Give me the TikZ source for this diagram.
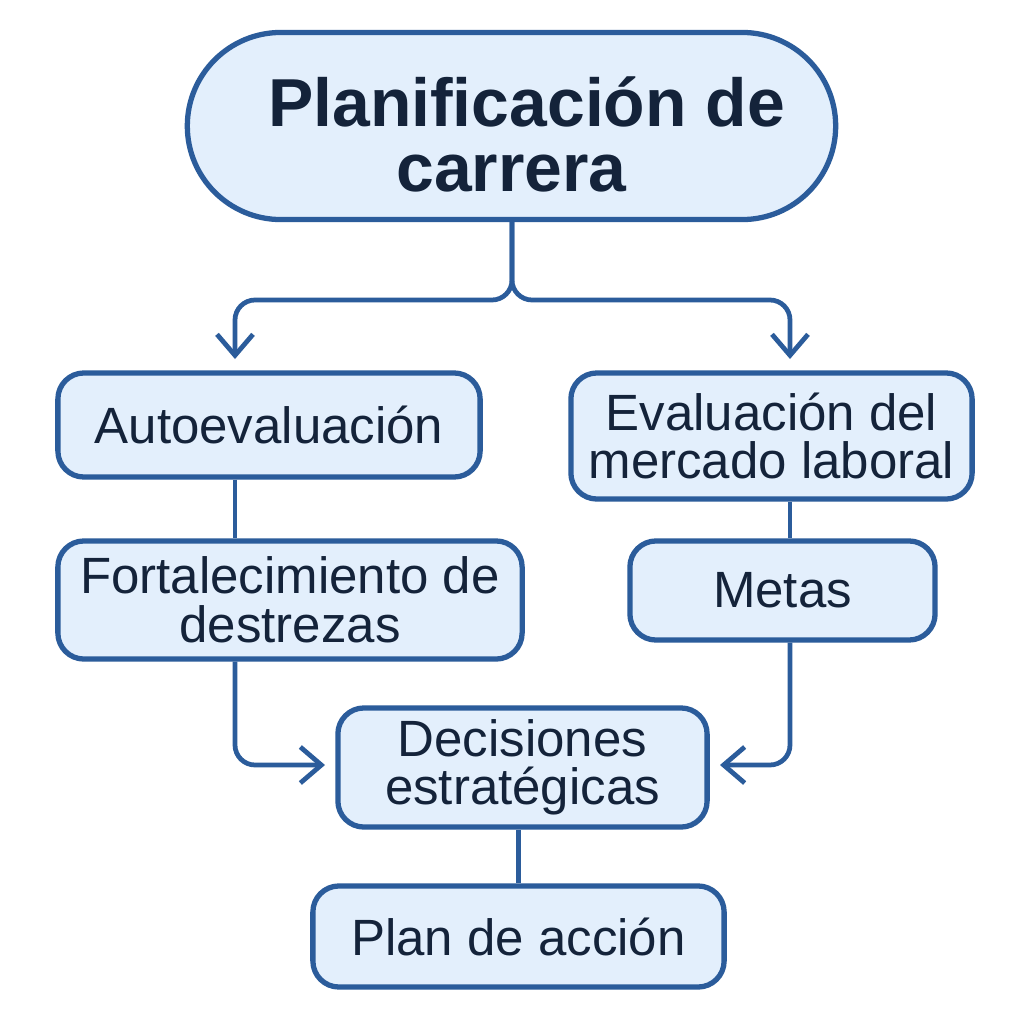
\documentclass[tikz,border=0pt]{standalone}
\usepackage{fontspec}
\setmainfont{Liberation Sans}
\usetikzlibrary{arrows.meta,shapes.misc}

\definecolor{Border}{HTML}{2B5C9B}
\definecolor{BoxFill}{HTML}{E3EFFC}
\definecolor{Ink}{HTML}{14233A}

\begin{document}
\begin{tikzpicture}[x=0.01cm, y=-0.01cm,
  stepbox/.style={draw=Border, fill=BoxFill, line width=1.5pt, rounded corners=0.26cm,
    inner sep=0pt, align=center, text=Ink,
    font=\fontsize{14.5}{13.8}\selectfont},
  link/.style={draw=Border, line width=1.35pt, rounded corners=0.2cm},
  tip/.style={-{Straight Barb[length=0.21cm, width=0.36cm, line width=1.35pt]}}]

  \useasboundingbox[fill=white] (0,0) rectangle (1024,1024);

  %%%%%%%%%%%%%%%% NODES %%%%%%%%%%%%%%%%%%%%%%
  \node (plan) [draw=Border, fill=BoxFill, line width=1.5pt, rounded rectangle,
    minimum width=6.48cm, minimum height=1.87cm, inner sep=0pt, align=center, text=Ink,
    font=\fontsize{19.3}{18.5}\selectfont\bfseries] at (511.5,126)
    {\hspace*{0.3cm}\rule{0pt}{0.66cm}Planificación de\\carrera};

  \node (auto) [stepbox, minimum width=4.22cm, minimum height=1.04cm] at (269,425) {Autoevaluación};
  \node (merc) [stepbox, minimum width=4.01cm, minimum height=1.26cm] at (771.5,436) {Evaluación del\\mercado laboral};
  \node (fort) [stepbox, minimum width=4.64cm, minimum height=1.18cm] at (290,600) {Fortalecimiento de\\destrezas};
  \node (metas) [stepbox, minimum width=3.05cm, minimum height=0.99cm] at (782.5,590.5) {Metas};
  \node (dec) [stepbox, minimum width=3.69cm, minimum height=1.19cm] at (522.5,767.5) {Decisiones\\estratégicas};
  \node (accion) [stepbox, minimum width=4.11cm, minimum height=1.01cm] at (518.5,936.5) {Plan de acción};

  %%%%%%%%%% Points pour les liens %%%%%%%%%%
  \coordinate (split) at (512,300);
  \coordinate (leftcol) at (235,300);
  \coordinate (rightcol) at (790,300);
  \coordinate (leftend) at (235,359);
  \coordinate (rightend) at (790,359);
  \coordinate (leftjoin) at (235,765);
  \coordinate (rightjoin) at (790,765);
  \coordinate (decin) at (325,765);
  \coordinate (decout) at (720,765);

  % Branches
  \draw [link, tip] (plan.south -| split) -- (split) -- (leftcol) -- (leftend);
  \draw [link, tip] (plan.south -| split) -- (split) -- (rightcol) -- (rightend);

  % Columns
  \draw [link] (auto.south -| leftcol) -- (fort.north -| leftcol);
  \draw [link] (merc.south -| rightcol) -- (metas.north -| rightcol);
  \draw [link, tip] (fort.south -| leftcol) -- (leftjoin) -- (decin);
  \draw [link, tip] (metas.south -| rightcol) -- (rightjoin) -- (decout);

  % Final step
  \draw [link] (accion.north |- dec.south) -- (accion.north);

\end{tikzpicture}
\end{document}
